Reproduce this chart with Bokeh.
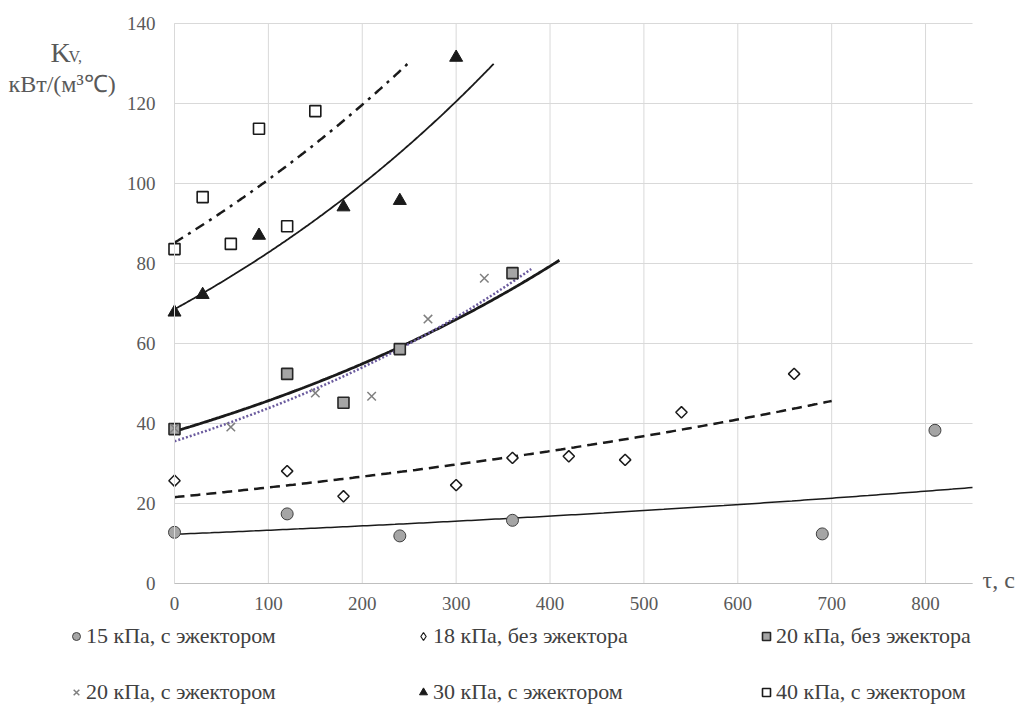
import numpy as np
from bokeh.plotting import figure
from bokeh.models import Legend, LegendItem, Label, FixedTicker, Range1d
from bokeh.embed import file_html
from bokeh.resources import INLINE

# ---------------- data ----------------
s1_x = [0, 120, 240, 360, 690, 810]
s1_y = [12.8, 17.4, 11.9, 15.8, 12.4, 38.3]
s2_x = [0, 120, 180, 300, 360, 420, 480, 540, 660]
s2_y = [25.7, 28.1, 21.8, 24.6, 31.4, 31.8, 30.9, 42.8, 52.4]
s3_x = [0, 120, 180, 240, 360]
s3_y = [38.6, 52.4, 45.2, 58.6, 77.6]
s4_x = [0, 60, 150, 210, 270, 330]
s4_y = [38.8, 39.1, 47.6, 46.8, 66.1, 76.3]
s5_x = [0, 30, 90, 180, 240, 300]
s5_y = [67.8, 72.2, 87.0, 94.1, 95.7, 131.5]
s6_x = [0, 30, 60, 90, 120, 150]
s6_y = [83.6, 96.6, 84.9, 113.7, 89.3, 118.1]
# extent of each exponential trend line (forecast end, s)
trend_end = [850, 700, 410, 380, 340, 250]
series_labels = [
    "15 кПа, с эжектором",
    "18 кПа, без эжектора",
    "20 кПа, без эжектора",
    "20 кПа, с эжектором",
    "30 кПа, с эжектором",
    "40 кПа, с эжектором",
]
x_ticks = [0, 100, 200, 300, 400, 500, 600, 700, 800]
y_ticks = [0, 20, 40, 60, 80, 100, 120, 140]
X_MAX = 850
Y_MAX = 140

FONT = "Liberation Serif"

# ---------------- layout (pixels) ----------------
W, H = 1020, 706
PX0, PX1 = 174, 972      # screen x of data 0 and X_MAX
PY0, PY1 = 583, 23       # screen y of data 0 and Y_MAX
kx = (PX1 - PX0) / X_MAX
ky = (PY0 - PY1) / Y_MAX
xr = Range1d(-PX0 / kx, (W - PX0) / kx)
yr = Range1d(-(H - PY0) / ky, Y_MAX + PY1 / ky)

p = figure(width=W, height=H, output_backend="svg", toolbar_location=None,
           x_range=xr, y_range=yr, min_border=0,
           min_border_left=0, min_border_right=0, min_border_top=0, min_border_bottom=0)
p.outline_line_color = None
p.background_fill_color = "white"
p.border_fill_color = "white"
p.grid.visible = False

# grid lines limited to the plot area
p.segment(x0=x_ticks, y0=[0] * len(x_ticks), x1=x_ticks, y1=[Y_MAX] * len(x_ticks),
          line_color="#d9d9d9", line_width=1)
p.segment(x0=[0] * len(y_ticks), y0=y_ticks, x1=[X_MAX] * len(y_ticks), y1=y_ticks,
          line_color="#d9d9d9", line_width=1)

p.xaxis.ticker = FixedTicker(ticks=x_ticks)
p.yaxis.ticker = FixedTicker(ticks=y_ticks)
p.xaxis.fixed_location = 0
p.yaxis.fixed_location = 0
p.xaxis.bounds = (0, X_MAX)
p.yaxis.bounds = (0, Y_MAX)
for ax in (p.xaxis, p.yaxis):
    ax.major_tick_line_color = None
    ax.minor_tick_line_color = None
    ax.major_tick_out = 0
    ax.major_tick_in = 0
    ax.minor_tick_out = 0
    ax.minor_tick_in = 0
    ax.major_label_text_font = FONT
    ax.major_label_text_font_size = "19px"
    ax.major_label_text_color = "#595959"
p.xaxis.axis_line_color = "#bfbfbf"
p.yaxis.axis_line_color = "#d9d9d9"
p.xaxis.major_label_standoff = 13
p.yaxis.major_label_standoff = 19


def trend(xs, ys, end):
    b, a = np.polyfit(np.array(xs, float), np.log(np.array(ys, float)), 1)
    tx = np.linspace(xs[0], end, 200)
    return tx, np.exp(a + b * tx)


# exponential trend lines
t = trend(s1_x, s1_y, trend_end[0])
p.line(t[0], t[1], line_color="#1a1a1a", line_width=1.5)
t = trend(s2_x, s2_y, trend_end[1])
p.line(t[0], t[1], line_color="#1a1a1a", line_width=2.5, line_dash="10 6")
t = trend(s3_x, s3_y, trend_end[2])
p.line(t[0], t[1], line_color="#1a1a1a", line_width=2.8)
t = trend(s4_x, s4_y, trend_end[3])
p.line(t[0], t[1], line_color="#6b5b9e", line_width=2.5, line_dash="2 2")
t = trend(s5_x, s5_y, trend_end[4])
p.line(t[0], t[1], line_color="#1a1a1a", line_width=1.8)
t = trend(s6_x, s6_y, trend_end[5])
p.line(t[0], t[1], line_color="#1a1a1a", line_width=2.5, line_dash="10 6 3 6")

# markers
r1 = p.scatter(s1_x, s1_y, marker="circle", size=12, fill_color="#a5a5a5",
               line_color="#404040", line_width=1)
r2 = p.scatter(s2_x, s2_y, marker="square", angle=np.pi / 4, size=8, fill_color="white",
               line_color="#1a1a1a", line_width=1.5)
r3 = p.scatter(s3_x, s3_y, marker="square", size=11, fill_color="#a5a5a5",
               line_color="#262626", line_width=1.6)
r4 = p.scatter(s4_x, s4_y, marker="x", size=12, line_color="#7f7f7f", line_width=1.5)
r5 = p.scatter(s5_x, s5_y, marker="triangle", size=13, fill_color="#1a1a1a",
               line_color="#1a1a1a", line_width=1)
r6 = p.scatter(s6_x, s6_y, marker="square", size=11, fill_color="white",
               line_color="#1a1a1a", line_width=1.6)
# legend symbol for the diamond series (legend glyphs are drawn unrotated);
# same data, hidden in the plot, only its legend symbol is shown
r2_key = p.scatter(s2_x, s2_y, marker="diamond", size=10, fill_color="white",
                   line_color="#1a1a1a", line_width=1.2, visible=False)

# legend: three columns of two rows below the plot area
renderers = [r1, r2_key, r3, r4, r5, r6]
columns = [[0, 3], [1, 4], [2, 5]]
col_left = [66, 413, 756]
for idxs, lx in zip(columns, col_left):
    items = [LegendItem(label=series_labels[i], renderers=[renderers[i]]) for i in idxs]
    lg = Legend(items=items, location=(lx, 1), orientation="vertical",
                spacing=30, padding=0, margin=0,
                glyph_width=20, glyph_height=20, label_height=20, label_standoff=0,
                label_text_font=FONT, label_text_font_size="22px",
                label_text_color="#404040", label_text_baseline="middle",
                inactive_fill_alpha=0,
                border_line_color=None, background_fill_alpha=0)
    p.add_layout(lg)

# axis titles (screen coordinates, origin at bottom-left of the canvas)
p.add_layout(Label(x=50, y=H - 52, x_units="screen", y_units="screen", text="K",
                   text_font=FONT, text_font_size="28px", text_color="#595959",
                   text_baseline="alphabetic"))
p.add_layout(Label(x=68, y=H - 56, x_units="screen", y_units="screen", text="V,",
                   text_font=FONT, text_font_size="16px", text_color="#595959",
                   text_baseline="alphabetic"))
p.add_layout(Label(x=8, y=H - 83, x_units="screen", y_units="screen", text="кВт/(м³℃)",
                   text_font=FONT, text_font_size="24px", text_color="#595959",
                   text_baseline="alphabetic"))
p.add_layout(Label(x=982, y=H - 579, x_units="screen", y_units="screen", text="τ, с",
                   text_font=FONT, text_font_size="24px", text_color="#595959",
                   text_baseline="alphabetic"))

open("out.html", "w").write(file_html(p, INLINE))
